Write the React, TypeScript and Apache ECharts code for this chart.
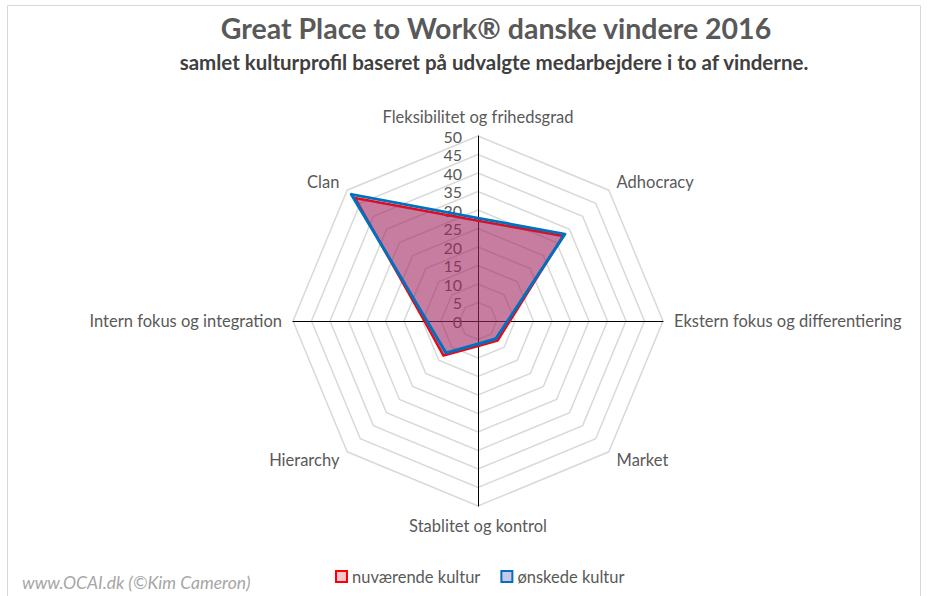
import React, { useEffect, useRef } from "react";
import * as echarts from "echarts";

// Indicators in counter-clockwise order starting at the top
const indicatorNames = [
  "Fleksibilitet og frihedsgrad",
  "Clan",
  "Intern fokus og integration",
  "Hierarchy",
  "Stablitet og kontrol",
  "Market",
  "Ekstern fokus og differentiering",
  "Adhocracy",
];
const crossAxes = [true, false, true, false, true, false, true, false];
const axisMax = 50;
const axisInterval = 5;

const seriesNames = ["nuværende kultur", "ønskede kultur"];
const currentCulture = [27.1, 47.0, 14.5, 13.2, 6.8, 7.5, 8.6, 32.5];
const desiredCulture = [27.8, 48.4, 13.8, 12.2, 6.2, 6.8, 8.0, 33.2];

const FONT = "Lato, 'Noto Sans', sans-serif";

export default function App() {
  const ref = useRef<HTMLDivElement>(null);

  useEffect(() => {
    if (!ref.current) return;
    const chart = echarts.init(ref.current, undefined, { renderer: "svg" });
    const option: any = {
      animation: false,
      backgroundColor: "#ffffff",
      textStyle: { fontFamily: FONT },
      graphic: [
        {
          type: "rect",
          shape: { x: 7.5, y: 5.5, width: 913, height: 620 },
          style: { fill: "none", stroke: "#d9d9d9", lineWidth: 1 },
          silent: true,
        },
        {
          type: "text",
          x: 496,
          y: 28,
          style: {
            text: "Great Place to Work® danske vindere 2016",
            font: `bold 28.5px ${FONT}`,
            fill: "#595959",
            textAlign: "center",
            textVerticalAlign: "middle",
          },
        },
        {
          type: "text",
          x: 494,
          y: 62,
          style: {
            text: "samlet kulturprofil baseret på udvalgte medarbejdere i to af vinderne.",
            font: `bold 20.5px ${FONT}`,
            fill: "#404040",
            textAlign: "center",
            textVerticalAlign: "middle",
          },
        },
        {
          type: "text",
          x: 22,
          y: 582,
          style: {
            text: "www.OCAI.dk (©Kim Cameron)",
            font: `italic 17.5px ${FONT}`,
            fill: "#a6a6a6",
            textAlign: "left",
            textVerticalAlign: "middle",
          },
        },
      ],
      legend: {
        left: 330,
        top: 563,
        itemWidth: 11,
        itemHeight: 11,
        itemGap: 20,
        textStyle: { fontSize: 16.5, color: "#595959", fontFamily: FONT },
        data: [
          {
            name: seriesNames[0],
            icon: "rect",
            itemStyle: { color: "#f6c6cc", borderColor: "#ff0000", borderWidth: 2 },
          },
          {
            name: seriesNames[1],
            icon: "rect",
            itemStyle: { color: "#c9c6e6", borderColor: "#0070c0", borderWidth: 2 },
          },
        ],
      },
      radar: {
        center: [478, 321],
        radius: 185,
        startAngle: 90,
        shape: "polygon",
        splitNumber: axisMax / axisInterval,
        nameGap: 11,
        axisName: { color: "#595959", fontSize: 16.5, fontFamily: FONT },
        axisLine: { show: true, lineStyle: { color: "#000000", width: 1 } },
        axisTick: { show: false },
        axisLabel: { show: false },
        splitLine: { lineStyle: { color: "#d9d9d9", width: 1.5 } },
        splitArea: { show: false },
        indicator: indicatorNames.map((name, i) => {
          const ind: any = { name, min: 0, max: axisMax, interval: axisInterval };
          if (!crossAxes[i]) ind.axisLine = { show: false };
          if (i === 0) {
            ind.axisLabel = {
              show: true,
              color: "#595959",
              fontSize: 16,
              lineHeight: 16,
              fontFamily: FONT,
              margin: 16,
            };
          }
          return ind;
        }),
      },
      series: [
        {
          type: "radar",
          symbol: "none",
          data: [
            {
              name: seriesNames[0],
              value: currentCulture,
              lineStyle: { color: "#ff0000", width: 2.5 },
              itemStyle: { color: "#ff0000" },
              areaStyle: { color: "rgb(162,38,97)", opacity: 0.6 },
            },
            {
              name: seriesNames[1],
              value: desiredCulture,
              lineStyle: { color: "#0070c0", width: 3 },
              itemStyle: { color: "#0070c0" },
            },
          ],
        },
      ],
    };
    chart.setOption(option);
    return () => chart.dispose();
  }, []);

  return (
    <div
      ref={ref}
      style={{ position: "fixed", left: 0, top: 0, width: 931, height: 596 }}
    />
  );
}
